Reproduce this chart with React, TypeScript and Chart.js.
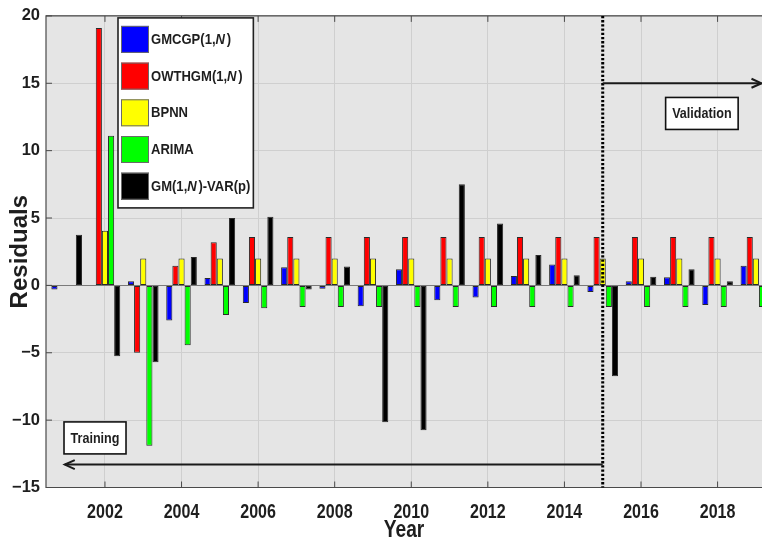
import React, { useEffect, useRef } from 'react';
import { Chart, registerables } from 'chart.js';

Chart.register(...registerables);

// ---- data -------------------------------------------------------------
const YEARS = [2001, 2002, 2003, 2004, 2005, 2006, 2007, 2008, 2009, 2010, 2011, 2012, 2013, 2014, 2015, 2016, 2017, 2018, 2019];

const SERIES_LABELS = ['GMCGP(1,N)', 'OWTHGM(1,N)', 'BPNN', 'ARIMA', 'GM(1,N)-VAR(p)'];
const SERIES_COLORS = ['#0000ff', '#ff0000', '#ffff00', '#00ff00', '#000000'];

const GMCGP = [-0.3, 0, 0.3, -2.6, 0.55, -1.3, 1.35, -0.25, -1.55, 1.2, -1.1, -0.9, 0.7, 1.55, -0.5, 0.3, 0.6, -1.45, 1.45];
const OWTHGM = [null, 19.1, -5.0, 1.45, 3.2, 3.6, 3.6, 3.6, 3.6, 3.6, 3.6, 3.6, 3.6, 3.6, 3.6, 3.6, 3.6, 3.6, 3.6];
const BPNN = [null, 4.05, 2.0, 2.0, 2.0, 2.0, 2.0, 2.0, 2.0, 2.0, 2.0, 2.0, 2.0, 2.0, 2.0, 2.0, 2.0, 2.0, 2.0];
const ARIMA = [null, 11.1, -11.9, -4.45, -2.2, -1.7, -1.6, -1.6, -1.6, -1.6, -1.6, -1.6, -1.6, -1.6, -1.6, -1.6, -1.6, -1.6, -1.6];
const GM_VAR = [3.75, -5.25, -5.7, 2.1, 5.0, 5.1, -0.3, 1.4, -10.15, -10.75, 7.5, 4.6, 2.25, 0.75, -6.75, 0.65, 1.2, 0.3, 0.5];

const SERIES = [GMCGP, OWTHGM, BPNN, ARIMA, GM_VAR];

const X_TICKS = [2002, 2004, 2006, 2008, 2010, 2012, 2014, 2016, 2018];
const X_MIN = 2000.46;
const X_MAX = 2019.16;
const Y_MIN = -15;
const Y_MAX = 20;
const Y_STEP = 5;

// split between training and validation periods
const SPLIT_YEAR = 2015;
const VALIDATION_ARROW_Y = 15;
const TRAINING_ARROW_Y = -13.3;
const TRAINING_ARROW_END = 2000.95;
const TRAINING_LABEL = { text: 'Training', x: 2001.74, y: -11.32 };
const VALIDATION_LABEL = { text: 'Validation', x: 2017.59, y: 12.76 };

// ---- styling ----------------------------------------------------------
const SANS = "'Liberation Sans', Arial, sans-serif";
const TEXT = '#1e1e1e';
const AXIS = '#4a4a4a';
const PLOT_BG = '#e5e5e5';
const GRID = '#cfcfcf';

const minusLabel = (v: number) => (v < 0 ? '\u2212' + Math.abs(v) : String(v));

// Narrow the glyphs of a scale's tick labels / title around their anchor points.
function condenseScaleText(scale: any, labelsK: number, titleK: number) {
  if (scale.__condensed) return;
  scale.__condensed = true;
  const wrap = (name: string, k: number) => {
    const orig = scale[name];
    scale[name] = function (...args: any[]) {
      const ctx = this.ctx;
      const translate = ctx.translate;
      ctx.translate = function (x: number, y: number) {
        translate.call(ctx, x, y);
        ctx.scale(k, 1);
      };
      try {
        return orig.apply(this, args);
      } finally {
        delete ctx.translate;
      }
    };
  };
  wrap('drawLabels', labelsK);
  wrap('drawTitle', titleK);
}

function drawArrowHead(ctx: CanvasRenderingContext2D, tipX: number, tipY: number, dir: number) {
  ctx.beginPath();
  ctx.moveTo(tipX - dir * 10, tipY - 4.5);
  ctx.lineTo(tipX, tipY);
  ctx.lineTo(tipX - dir * 10, tipY + 4.5);
  ctx.stroke();
}

const BOX_FONT = 15;
const BOX_K = 0.84;

function drawTextBox(ctx: CanvasRenderingContext2D, label: { text: string; x: number; y: number }, xs: any, ys: any) {
  const cx = xs.getPixelForValue(label.x);
  const cy = ys.getPixelForValue(label.y);
  ctx.font = `bold ${BOX_FONT}px ${SANS}`;
  const w = ctx.measureText(label.text).width * BOX_K + 13;
  const h = 32;
  ctx.fillStyle = '#ffffff';
  ctx.fillRect(cx - w / 2, cy - h / 2, w, h);
  ctx.strokeStyle = '#111';
  ctx.lineWidth = 1.6;
  ctx.setLineDash([]);
  ctx.strokeRect(cx - w / 2, cy - h / 2, w, h);
  ctx.save();
  ctx.translate(cx, cy + 0.5);
  ctx.scale(BOX_K, 1);
  ctx.fillStyle = TEXT;
  ctx.textAlign = 'center';
  ctx.textBaseline = 'middle';
  ctx.fillText(label.text, 0, 0);
  ctx.restore();
}

const LEGEND_FONT = 15;
const LEGEND_K = 0.87;
const ITALIC_GAP = 2;

// split a legend label into runs, the N of "(1,N)" set in italic
function labelRuns(text: string) {
  const runs: { s: string; italic: boolean }[] = [];
  for (let i = 0; i < text.length; i++) {
    const italic = text[i] === 'N' && text[i - 1] === ',';
    const last = runs[runs.length - 1];
    if (last && !last.italic && !italic) last.s += text[i];
    else runs.push({ s: text[i], italic });
  }
  return runs;
}

function richWidth(ctx: CanvasRenderingContext2D, text: string) {
  let w = 0;
  for (const r of labelRuns(text)) {
    ctx.font = `${r.italic ? 'italic ' : ''}bold ${LEGEND_FONT}px ${SANS}`;
    w += ctx.measureText(r.s).width + (r.italic ? ITALIC_GAP : 0);
  }
  return w * LEGEND_K;
}

function drawRichLabel(ctx: CanvasRenderingContext2D, text: string, x: number, y: number) {
  ctx.save();
  ctx.translate(x, y);
  ctx.scale(LEGEND_K, 1);
  ctx.textAlign = 'left';
  ctx.textBaseline = 'middle';
  ctx.fillStyle = TEXT;
  let cx = 0;
  for (const r of labelRuns(text)) {
    ctx.font = `${r.italic ? 'italic ' : ''}bold ${LEGEND_FONT}px ${SANS}`;
    ctx.fillText(r.s, cx, 0);
    cx += ctx.measureText(r.s).width + (r.italic ? ITALIC_GAP : 0);
  }
  ctx.restore();
}

const plotBackground = {
  id: 'plotBackground',
  beforeDraw(chart: any) {
    const { ctx, chartArea: a } = chart;
    ctx.save();
    ctx.fillStyle = '#ffffff';
    ctx.fillRect(0, 0, chart.width, chart.height);
    ctx.fillStyle = PLOT_BG;
    ctx.fillRect(a.left, a.top, a.right - a.left, a.bottom - a.top);
    ctx.restore();
  },
};

const frameAndAnnotations = {
  id: 'frameAndAnnotations',
  afterDatasetsDraw(chart: any) {
    const { ctx, chartArea: a, scales } = chart;
    const xs = scales.x;
    const ys = scales.y;
    ctx.save();

    // axes frame (right side runs off the canvas)
    ctx.strokeStyle = AXIS;
    ctx.lineWidth = 1.2;
    ctx.beginPath();
    ctx.moveTo(a.right + 2, a.top);
    ctx.lineTo(a.left, a.top);
    ctx.lineTo(a.left, a.bottom);
    ctx.lineTo(a.right + 2, a.bottom);
    ctx.stroke();

    // inward tick marks
    ctx.lineWidth = 1;
    ctx.beginPath();
    for (const v of X_TICKS) {
      const px = xs.getPixelForValue(v);
      ctx.moveTo(px, a.bottom);
      ctx.lineTo(px, a.bottom - 6);
      ctx.moveTo(px, a.top);
      ctx.lineTo(px, a.top + 6);
    }
    for (let v = Y_MIN; v <= Y_MAX; v += Y_STEP) {
      const py = ys.getPixelForValue(v);
      ctx.moveTo(a.left, py);
      ctx.lineTo(a.left + 6, py);
    }
    ctx.stroke();

    // training / validation split
    const sx = xs.getPixelForValue(SPLIT_YEAR);
    ctx.strokeStyle = '#000';
    ctx.lineWidth = 3;
    ctx.setLineDash([2.3, 1.9]);
    ctx.beginPath();
    ctx.moveTo(sx, a.top);
    ctx.lineTo(sx, a.bottom);
    ctx.stroke();
    ctx.setLineDash([]);

    // arrows
    ctx.strokeStyle = '#1a1a1a';
    ctx.lineWidth = 2;
    const vy = ys.getPixelForValue(VALIDATION_ARROW_Y);
    const vEnd = xs.getPixelForValue(X_MAX) - 0.5;
    ctx.beginPath();
    ctx.moveTo(sx, vy);
    ctx.lineTo(vEnd, vy);
    ctx.stroke();
    drawArrowHead(ctx, vEnd, vy, 1);

    const ty = ys.getPixelForValue(TRAINING_ARROW_Y);
    const tEnd = xs.getPixelForValue(TRAINING_ARROW_END);
    ctx.beginPath();
    ctx.moveTo(sx, ty);
    ctx.lineTo(tEnd, ty);
    ctx.stroke();
    drawArrowHead(ctx, tEnd, ty, -1);

    drawTextBox(ctx, TRAINING_LABEL, xs, ys);
    drawTextBox(ctx, VALIDATION_LABEL, xs, ys);

    ctx.restore();
  },
  afterDraw(chart: any) {
    const { ctx, chartArea: a } = chart;
    ctx.save();
    const lx = a.left + 72;
    const ly = a.top + 2;
    const textW = Math.max(...chart.data.datasets.map((ds: any) => richWidth(ctx, ds.label)));
    const lw = 33 + textW + 3;
    const lh = 190;
    ctx.fillStyle = '#ffffff';
    ctx.fillRect(lx, ly, lw, lh);
    ctx.strokeStyle = '#222';
    ctx.lineWidth = 1.6;
    ctx.strokeRect(lx, ly, lw, lh);
    chart.data.datasets.forEach((ds: any, i: number) => {
      const top = ly + 8 + i * 36.7;
      ctx.fillStyle = ds.backgroundColor;
      ctx.fillRect(lx + 3, top, 28, 27);
      ctx.strokeStyle = '#6a6a6a';
      ctx.lineWidth = 1;
      ctx.strokeRect(lx + 3.5, top + 0.5, 27, 26);
      drawRichLabel(ctx, ds.label, lx + 33, top + 14);
    });
    ctx.restore();
  },
};

export default function App() {
  const canvasRef = useRef<HTMLCanvasElement>(null);

  useEffect(() => {
    const canvas = canvasRef.current;
    if (!canvas) return;
    const datasets = SERIES.map((values, i) => ({
      label: SERIES_LABELS[i],
      data: YEARS.map((year, j) => ({ x: year, y: values[j] })),
      backgroundColor: SERIES_COLORS[i],
      borderColor: '#2a2a2a',
      borderWidth: 1,
      borderSkipped: false,
      categoryPercentage: 0.8,
      barPercentage: 1.0,
    }));

    const chart = new Chart(canvas, {
      type: 'bar',
      data: { datasets } as any,
      options: {
        responsive: false,
        animation: false,
        layout: { padding: { top: 15, left: 0, right: 0, bottom: 0 } },
        plugins: { legend: { display: false }, tooltip: { enabled: false } },
        scales: {
          x: {
            type: 'linear',
            offset: false,
            min: X_MIN,
            max: X_MAX,
            afterBuildTicks: (scale: any) => {
              scale.ticks = X_TICKS.map((v) => ({ value: v }));
            },
            afterFit: (scale: any) => {
              scale.height = 63.5;
              condenseScaleText(scale, 0.765, 0.8);
            },
            grid: { color: GRID, lineWidth: 1, drawTicks: false, offset: false },
            border: { display: false },
            ticks: {
              autoSkip: false,
              maxRotation: 0,
              padding: 12,
              color: TEXT,
              font: { family: SANS, size: 21, weight: 'bold' },
              callback: (v: any) => String(v),
            },
            title: {
              display: true,
              text: 'Year',
              color: TEXT,
              font: { family: SANS, size: 24, weight: 'bold' },
              padding: { top: 0, bottom: 6 },
            },
          },
          y: {
            min: Y_MIN,
            max: Y_MAX,
            afterFit: (scale: any) => {
              scale.width = 46;
            },
            grid: {
              color: (c: any) => (c.tick && c.tick.value === 0 ? '#7a7a7a' : GRID),
              lineWidth: 1,
              drawTicks: false,
            },
            border: { display: false },
            ticks: {
              stepSize: Y_STEP,
              padding: 6,
              color: TEXT,
              font: { family: SANS, size: 16.5, weight: 'bold' },
              callback: (v: any) => minusLabel(Number(v)),
            },
            title: {
              display: true,
              text: 'Residuals',
              color: TEXT,
              font: { family: SANS, size: 24, weight: 'bold' },
              padding: { top: 5.6, bottom: 0 },
            },
          },
        },
      } as any,
      plugins: [plotBackground, frameAndAnnotations],
    });

    return () => chart.destroy();
  }, []);

  return (
    <div style={{ position: 'fixed', left: 0, top: 0, width: 762, height: 551, overflow: 'hidden', background: '#fff' }}>
      <canvas ref={canvasRef} width={762} height={551} style={{ display: 'block' }} />
    </div>
  );
}
